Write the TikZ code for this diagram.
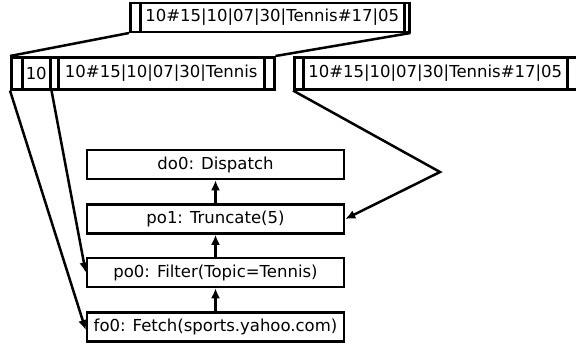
\documentclass[tikz,border=0pt]{standalone}
\usepackage{fontspec}
\setmainfont{DejaVu Sans}
\usetikzlibrary{arrows.meta}
\tikzset{
  cell/.style={draw, line width=2.5pt, inner sep=0pt, anchor=north west, font=\fontsize{16.5}{19}\selectfont},
  box/.style={draw, line width=2.5pt, inner sep=0pt, minimum width=257pt, minimum height=29pt, font=\fontsize{16.5}{19}\selectfont},
  conn/.style={line width=2.5pt},
  arr/.style={line width=2.5pt, -{Latex[length=10pt,width=9pt]}}
}
\begin{document}
\begin{tikzpicture}[x=1pt,y=-1pt]
\useasboundingbox (0,0) rectangle (576,349);
\clip (0,0) rectangle (576,349);
% top box
\node[cell, minimum width=10pt, minimum height=29pt] (tA) at (129,1.5) {};
\node[cell, minimum width=264pt, minimum height=29pt] (tB) at (139,1.5) {10\#15|10|07|30|Tennis\#17|05};
\node[cell, minimum width=5pt, minimum height=29pt] (tC) at (403,1.5) {};
% second box
\node[cell, minimum width=11pt, minimum height=32pt] (sA) at (10,56) {};
\node[cell, minimum width=28pt, minimum height=32pt] (sB) at (21,56) {10};
\node[cell, minimum width=8pt, minimum height=32pt] (sC) at (49,56) {};
\node[cell, minimum width=206pt, minimum height=32pt] (sD) at (57,56) {10\#15|10|07|30|Tennis};
\node[cell, minimum width=10pt, minimum height=32pt] (sE) at (263,56) {};
% third box
\node[cell, minimum width=9pt, minimum height=32pt] (hA) at (293,56) {};
\node[cell, minimum width=264pt, minimum height=32pt] (hB) at (302,56) {10\#15|10|07|30|Tennis\#17|05};
\node[cell, minimum width=20pt, minimum height=32pt] (hC) at (566,56) {};
% operator boxes
\node[box] (do0) at (215.5,164.5) {do0: Dispatch};
\node[box] (po1) at (215.5,219) {po1: Truncate(5)};
\node[box] (po0) at (215.5,272.5) {po0: Filter(Topic=Tennis)};
\node[box] (fo0) at (215.5,327) {fo0: Fetch(sports.yahoo.com)};
\coordinate (bend) at (440,172);
% connectors
\draw[conn] (tA.south west) -- (sA.north west);
\draw[conn] (tC.south east) -- (sE.north east);
\draw[arr] (sA.south west) -- ([yshift=-3pt]fo0.west);
\draw[arr] (sB.south east) -- (po0.west);
\draw[arr] (hA.south west) -- (bend) -- (po1.east);
\draw[arr] (fo0.north) -- (po0.south);
\draw[arr] (po0.north) -- (po1.south);
\draw[arr] (po1.north) -- (do0.south);
\end{tikzpicture}
\end{document}
